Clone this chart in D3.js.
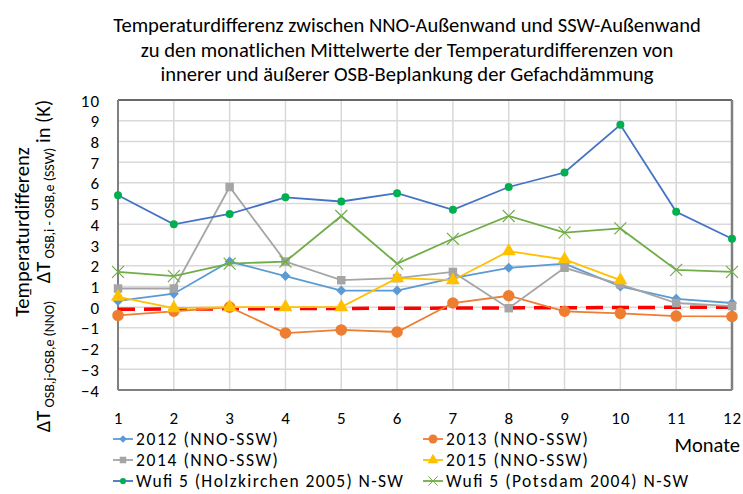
<!DOCTYPE html>
<html>
<head>
<meta charset="utf-8">
<script src="https://cdn.jsdelivr.net/npm/d3@7"></script>
<style>
html,body{margin:0;padding:0;background:#fff;}
svg{display:block;}
text{font-family:Calibri,Carlito,Lato,sans-serif;fill:#000;}
</style>
</head>
<body>
<svg id="chart" width="743" height="494"></svg>
<script>
const months = [1,2,3,4,5,6,7,8,9,10,11,12];
const yTicks = [-4,-3,-2,-1,0,1,2,3,4,5,6,7,8,9,10];
const titleLines = [
  "Temperaturdifferenz zwischen NNO-Außenwand und SSW-Außenwand",
  "zu den monatlichen Mittelwerte der Temperaturdifferenzen  von",
  "innerer und äußerer OSB-Beplankung der Gefachdämmung"
];
const s2012 = [0.3,0.65,2.2,1.5,0.8,0.8,1.4,1.9,2.1,1.0,0.4,0.2];
const s2013 = [-0.4,-0.2,0.0,-1.25,-1.1,-1.2,0.2,0.55,-0.2,-0.3,-0.43,-0.45];
const s2014 = [0.9,0.9,5.8,2.2,1.3,1.4,1.7,-0.05,1.9,1.1,0.2,0.05];
const s2015 = [0.5,-0.05,0.0,0.0,0.0,1.4,1.3,2.7,2.3,1.3,null,null];
const wufiH = [5.4,4.0,4.5,5.3,5.1,5.5,4.7,5.8,6.5,8.8,4.6,3.3];
const wufiP = [1.7,1.5,2.1,2.2,4.4,2.1,3.3,4.4,3.6,3.8,1.8,1.7];
const refMonths = [1,12];
const refValues = [-0.1,0.0];

const series = [
  {name:"2012 (NNO-SSW)", data:s2012, line:"#5B9BD5", marker:"diamond", fill:"#5B9BD5", size:50},
  {name:"2013 (NNO-SSW)", data:s2013, line:"#ED7D31", marker:"circle", fill:"#ED7D31", size:105},
  {name:"2014 (NNO-SSW)", data:s2014, line:"#A5A5A5", marker:"square", fill:"#A5A5A5", size:72},
  {name:"2015 (NNO-SSW)", data:s2015, line:"#FFC000", marker:"triangle", fill:"#FFC000", size:85},
  {name:"Wufi 5 (Holzkirchen 2005) N-SW", data:wufiH, line:"#4472C4", marker:"circle", fill:"#00B050", size:50},
  {name:"Wufi 5 (Potsdam 2004) N-SW", data:wufiP, line:"#70AD47", marker:"x", fill:"#70AD47", size:95}
];

const FS = 20.5;
const TFS = 17;
const LFS = 17.5;
const svg = d3.select("#chart");
const L=118, R=732, T=100, B=390;
const x = d3.scaleLinear().domain([1,12]).range([L,R]);
const y = d3.scaleLinear().domain([-4,10]).range([B,T]);

// title
svg.append("g").selectAll("text").data(titleLines).join("text")
  .attr("x",407).attr("y",(d,i)=>32+i*24.5)
  .attr("text-anchor","middle").attr("font-size",20.6).text(d=>d);

// gridlines
const grid = svg.append("g");
grid.selectAll("line.h").data(yTicks).join("line").attr("class","h")
  .attr("x1",L).attr("x2",R).attr("y1",d=>y(d)).attr("y2",d=>y(d))
  .attr("stroke","#D9D9D9").attr("stroke-width",1.5);
grid.selectAll("line.v").data(months).join("line").attr("class","v")
  .attr("y1",T).attr("y2",B).attr("x1",d=>x(d)).attr("x2",d=>x(d))
  .attr("stroke","#D9D9D9").attr("stroke-width",1.5);

// border
svg.append("line").attr("x1",L).attr("x2",R).attr("y1",T).attr("y2",T).attr("stroke","#404040").attr("stroke-width",1.5);
svg.append("line").attr("x1",R).attr("x2",R).attr("y1",T).attr("y2",B).attr("stroke","#808080").attr("stroke-width",2.5);
svg.append("line").attr("x1",L).attr("x2",L).attr("y1",T).attr("y2",B).attr("stroke","#808080").attr("stroke-width",2);
svg.append("line").attr("x1",L).attr("x2",R).attr("y1",B).attr("y2",B).attr("stroke","#808080").attr("stroke-width",2);

// axes (labels only)
const yAxis = d3.axisLeft(y).tickValues(yTicks).tickSize(0).tickPadding(0);
const gy = svg.append("g").attr("transform",`translate(100,0)`).call(yAxis);
gy.select(".domain").remove();
gy.selectAll("text").attr("font-size",TFS).attr("letter-spacing",1).attr("font-family","Calibri,Carlito,Lato,sans-serif").attr("fill","#000").attr("dy","0.36em");

const xAxis = d3.axisBottom(x).tickValues(months).tickFormat(d3.format("d")).tickSize(0).tickPadding(0);
const gx = svg.append("g").attr("transform",`translate(0,418)`).call(xAxis);
gx.select(".domain").remove();
gx.selectAll("text").attr("font-size",TFS).attr("letter-spacing",1).attr("font-family","Calibri,Carlito,Lato,sans-serif").attr("fill","#000").attr("dy","0.36em");

// y axis title
const yt = svg.append("g");
yt.append("text").attr("transform","translate(29,232) rotate(-90)")
  .attr("text-anchor","middle").attr("font-size",FS).text("Temperaturdifferenz");
const t2 = yt.append("text").attr("transform","translate(50,266) rotate(-90)")
  .attr("text-anchor","middle").attr("font-size",FS);
t2.append("tspan").text("ΔT");
t2.append("tspan").attr("font-size",14).attr("dy",4).text(" OSB,j-OSB,e (NNO)");
t2.append("tspan").attr("dy",-11).text(" ¯ ");
t2.append("tspan").attr("dy",7).text("ΔT");
t2.append("tspan").attr("font-size",14).attr("dy",4).text(" OSB,i - OSB,e (SSW)");
t2.append("tspan").attr("dy",-4).text(" in (K)");

// reference dashed line
svg.append("path").datum(refMonths.map((m,i)=>[m,refValues[i]]))
  .attr("d",d3.line().x(d=>x(d[0])).y(d=>y(d[1])))
  .attr("fill","none").attr("stroke","#FF0000").attr("stroke-width",3.5).attr("stroke-dasharray","17,9");

function symbolFor(m){
  return {diamond:d3.symbolSquare, circle:d3.symbolCircle, square:d3.symbolSquare, triangle:d3.symbolTriangle, x:d3.symbolTimes}[m];
}
function rot(m){ return m==="diamond" ? " rotate(45)" : ""; }

const line = d3.line().defined(d=>d[1]!=null).x(d=>x(d[0])).y(d=>y(d[1]));
series.forEach(s=>{
  const pts = months.map((m,i)=>[m,s.data[i]]);
  svg.append("path").datum(pts).attr("d",line)
    .attr("fill","none").attr("stroke",s.line).attr("stroke-width",1.8);
  const sym = d3.symbol().type(symbolFor(s.marker)).size(s.size);
  svg.append("g").selectAll("path").data(pts.filter(d=>d[1]!=null)).join("path")
    .attr("transform",d=>`translate(${x(d[0])},${y(d[1])})`+rot(s.marker))
    .attr("d",sym)
    .attr("fill",s.marker==="x"?"none":s.fill)
    .attr("stroke",s.marker==="x"?s.fill:"none")
    .attr("stroke-width",1.2);
});

// legend
const legPos = [[113,439],[423,439],[113,460],[423,460],[113,481],[423,481]];
const lg = svg.append("g");
series.forEach((s,i)=>{
  const [lx,ly] = legPos[i];
  const g = lg.append("g").attr("transform",`translate(${lx},${ly})`);
  g.append("line").attr("x1",0).attr("x2",20).attr("stroke",s.line).attr("stroke-width",1.8);
  const sym = d3.symbol().type(symbolFor(s.marker)).size(s.size*0.6);
  g.append("path").attr("transform","translate(10,0)"+rot(s.marker)).attr("d",sym)
    .attr("fill",s.marker==="x"?"none":s.fill)
    .attr("stroke",s.marker==="x"?s.fill:"none").attr("stroke-width",1);
  const t = g.append("text").attr("x",23).attr("dy","0.36em").attr("font-size",FS).text(s.name);
  const w = t.node().getComputedTextLength();
  t.attr("font-size",LFS).attr("textLength",w).attr("lengthAdjust","spacing");
});

svg.append("text").attr("x",740).attr("y",445).attr("dy","0.36em").attr("text-anchor","end").attr("font-size",FS).text("Monate");
</script>
</body>
</html>
